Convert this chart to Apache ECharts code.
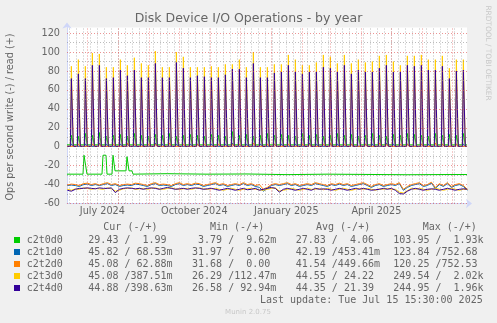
<!DOCTYPE html>
<html><head><meta charset="utf-8">
<script src="https://cdn.jsdelivr.net/npm/echarts@6/dist/echarts.min.js"></script>
<style>html,body{margin:0;padding:0;background:#f0f0f0;}#c{width:497px;height:323px;}</style>
</head><body><div id="c"></div>
<script>
// ---------- axis / time data ----------
const t0 = Date.UTC(2024, 5, 10, 15, 30);           // left edge of graph (end - 400 days)
const DAY = 86400000;
const xOf = s => (Date.parse(s + 'T00:00:00Z') - t0) / DAY;
const totalDays = 400;
const firstSample = xOf('2024-06-11');               // first daily sample
const monthStarts = ['2024-07-01','2024-08-01','2024-09-01','2024-10-01','2024-11-01','2024-12-01','2025-01-01','2025-02-01','2025-03-01','2025-04-01','2025-05-01','2025-06-01','2025-07-01'];
const weekLines = ['2024-06-13','2024-06-20','2024-06-27','2024-07-04','2024-07-11','2024-07-18','2024-07-25','2024-08-01','2024-08-08','2024-08-15','2024-08-22','2024-08-29','2024-09-05','2024-09-12','2024-09-19','2024-09-26','2024-10-03','2024-10-10','2024-10-17','2024-10-24','2024-10-31','2024-11-07','2024-11-14','2024-11-21','2024-11-28','2024-12-05','2024-12-12','2024-12-19','2024-12-26','2025-01-02','2025-01-09','2025-01-16','2025-01-23','2025-01-30','2025-02-06','2025-02-13','2025-02-20','2025-02-27','2025-03-06','2025-03-13','2025-03-20','2025-03-27','2025-04-03','2025-04-10','2025-04-17','2025-04-24','2025-05-01','2025-05-08','2025-05-15','2025-05-22','2025-05-29','2025-06-05','2025-06-12','2025-06-19','2025-06-26','2025-07-03','2025-07-10'];
const xLabelDates = ['2024-07-16','2024-10-16','2025-01-16','2025-04-16'];
const xLabels = ['July 2024','October 2024','January 2025','April 2025'];
const yTicks = [-60,-40,-20,0,20,40,60,80,100,120];
const yMinor = [-50,-30,-10,10,30,50,70,90,110];

// ---------- series data ----------
const disks  = ['c2t0d0','c2t1d0','c2t2d0','c2t3d0','c2t4d0'];
const colors = ['#00CC00','#0066B3','#FF8000','#FFCC00','#330099'];

// weekly read spikes (day index from 2024-06-11, two-day plateau)
const spikeIdx = [4,11,18,25,32,39,46,53,60,67,74,81,88,95,102,109,116,123,130,137,144,151,158,165,172,179,186,193,200,207,214,221,228,235,242,249,256,263,270,277,284,291,298,305,312,319,326,333,340,347,354,361,368,375,382,389,396];
const c2t3d0ReadPeaks = [85,92,85,99,98,84,84,92,86,94,88,86,101,84,84,100,95,84,84,84,85,84,87,87,92,84,100,84,84,87,
                         87,97,92,86,86,89,97,95,88,97,88,92,89,90,96,97,90,86,96,96,97,92,92,96,83,92,92];
const c2t4d0ReadPeaks = [72,77,72,86,86,72,73,81,75,81,73,73,88,73,73,89,83,73,75,74,73,73,76,82,82,73,88,73,73,78,
                         79,86,79,77,79,79,84,83,79,86,77,81,79,79,83,86,79,79,86,85,86,81,81,85,72,80,81];
const c2t0d0ReadPeaks = [12,11,14,12,15,11,12,13,11,14,12,11,13,12,14,11,12,13,12,11,13,12,11,16,12,13,11,12,14,12,
                         13,12,11,14,12,13,11,12,14,12,13,11,12,14,12,11,13,12,14,13,12,11,14,12,13,12,14];
const c2t1d0ReadPeaks = [3,2,3,2,4,3,2,3,3,2,3,2,4,3,2,3,2,3,3,2,3,2,3,4,2,3,2,3,2,3,3,2,3,2,4,3,2,3,3,2,3,2,3,3,2,4,3,2,3,2,3,3,2,3,2,3,3];
const c2t2d0ReadPeaks = [2,3,2,3,3,2,3,2,4,3,2,3,3,2,4,2,3,2,3,3,2,3,2,3,3,2,4,2,3,3,2,3,2,3,3,2,3,4,2,3,3,2,3,2,4,3,2,3,3,2,3,2,4,3,2,3,2];
const readBase = [1.99, 0.45, 0.45, 0.39, 0.40];

// write rates, one sample every 4 days from 2024-06-11 (drawn negative)
const writeStep = 4;
const c2t1d0Write = [41,40.5,41,42,40,39.5,41,40,41,40, 39,41,40,42,41,40.5,41,39.5,40,41, 42,40,39,41,40.5,41,42,40,39,41,
  40,41,39.5,40,42,41,40,39,41,40, 42,41,40,41,39,41,40,42,43,47, 44,41,40,41,40,39,41,40,42,41, 40,41,39,40,41,42,40,41,39.5,41,
  40,42,41,40,39,41,43,41,40,42, 41,40,41,39,46,43,41,40,39,42, 41,38.5,44,40,42,39,43,41,40,42, 46];
const c2t2d0Write = [40.5,39.5,40,41,39,38.5,40,39,40.5,39, 38,40,39,41,40,39.5,40,38.5,39,40, 41,39,38,40,39.5,40,41,39,38,40,
  39,40,38.5,39,41,40,39,38,40,39, 41,40,39,40,38,40,39,41,40,45, 43,40,39,40,39,38,40,39,41,40, 39,40,38,39,40,41,39,40,38.5,40,
  39,41,40,39,38,40,42,40,39,41, 40,39,40,38,45,42,40,39,38,41, 40,37.5,43,39,41,38,42,40,39,41, 45];
const c2t3d0Write = [45,46,44.5,45,43.5,44,45,44,44.5,45, 43.5,44.5,47,46,44.5,44,43.5,45,44.5,44, 45,44,43.5,44.5,45,44,43.5,44.5,45,44.5,
  44,45,44,43.5,44.5,45,44.5,44,45,46, 45,44,45,46,45,44.5,44,45,45.5,46, 45,44,43.5,47,46,45,44,45,46,45, 44,45,45,44,45.5,44,45,46,45,44,
  45,46,45,44,45,44,45,46,44.5,45, 44,45,45,48,49,46.5,44,45,44,45, 46,45,44,45,46,45,44,45,46,45, 45.1];
const c2t4d0Write = [46,47,45,44,44,43.5,44,44.5,43.5,44, 44,43.5,48.5,45,44,43.5,44,44.5,44,45, 44,43.5,44,45,44,43,44,45,44.5,44,
  45,44,43.5,44,45,44.5,44,45,46,45, 44,45,46,45,44,45.5,45,44,46,45, 44,43,44,48,45,44,45,46,45,44, 45,46,44,45,44.5,45,46,45,44,45,
  46,45,44,45,44,45,46,45.5,45,44, 45,44,46,49.5,50,47,45,44,45,46, 45,44.5,45,46,45,44,45,46,45,44.5, 44.9];
// c2t0d0 write: break points (days from left edge) and values
const c2t0d0WriteX = [0,16,17,19,20,35,36,39,40,45,46,47,48,59,60,61,62,65,66,100,140,180,220,260,300,340,380,400];
const c2t0d0WriteV = [29,29,9,9,29,29,9,9,29,29,9,9,25.5,25.5,10.5,10.5,25.5,25.5,29,28.5,29,28.8,29.5,29,29.3,29.6,29.4,29.4];

// ---------- legend table values ----------
const curW = ['29.43','45.82','45.08','45.08','44.88'], curR = ['1.99','68.53m','62.88m','387.51m','398.63m'];
const minW = ['3.79','31.97','31.68','26.29','26.58'],  minR = ['9.62m','0.00','0.00','112.47m','92.94m'];
const avgW = ['27.83','42.19','41.54','44.55','44.35'], avgR = ['4.06','453.41m','449.66m','24.22','21.39'];
const maxW = ['103.95','123.84','120.25','249.54','244.95'], maxR = ['1.93k','752.68','752.53','2.02k','1.96k'];
const headers = ['Cur (-/+)','Min (-/+)','Avg (-/+)','Max (-/+)'];

// ---------- build ----------
const readPeaks = [c2t0d0ReadPeaks, c2t1d0ReadPeaks, c2t2d0ReadPeaks, c2t3d0ReadPeaks, c2t4d0ReadPeaks];
const writes = [null, c2t1d0Write, c2t2d0Write, c2t3d0Write, c2t4d0Write];
function readData(peaks, base) {
  const pts = [[0, base]];
  spikeIdx.forEach((i, k) => {
    const d = firstSample + i;
    pts.push([d - 1, base], [d, peaks[k]], [d + 1, peaks[k]], [d + 2, base]);
  });
  pts.push([totalDays, base]);
  return pts;
}
function writeData(k) {
  if (k === 0) return c2t0d0WriteX.map((x, i) => [x, -c2t0d0WriteV[i]]);
  return writes[k].map((v, j) => [firstSample + writeStep * j, -v]);
}
const gridMajor = 'rgba(222,79,79,0.6)';
const gridMinor = 'rgba(143,143,143,0.6)';
const mlData = [];
weekLines.forEach(s => mlData.push({xAxis: xOf(s), lineStyle: {color: gridMinor, type: [1, 2], width: 1}}));
yMinor.forEach(v => mlData.push({yAxis: v, lineStyle: {color: gridMinor, type: [1, 2], width: 1}}));
monthStarts.forEach(s => mlData.push({xAxis: xOf(s), lineStyle: {color: gridMajor, type: [1, 2], width: 1}}));
yTicks.forEach(v => mlData.push({yAxis: v, lineStyle: {color: gridMajor, type: [1, 2], width: 1}}));

const series = [{
  type: 'line', data: [[0, 0]], symbol: 'none', lineStyle: {opacity: 0}, silent: true,
  markLine: {silent: true, symbol: 'none', label: {show: false}, animation: false, data: mlData}
}];
disks.forEach((name, k) => {
  series.push({type: 'line', name: name + ' write', data: writeData(k), symbol: 'none',
    lineStyle: {color: colors[k], width: 1}, itemStyle: {color: colors[k]}, silent: true});
  const rs = {type: 'line', name: name + ' read', data: readData(readPeaks[k], readBase[k]), symbol: 'none',
    lineStyle: {color: colors[k], width: 1}, itemStyle: {color: colors[k]}, silent: true};
  if (k === 4) {
    rs.areaStyle = {origin: 'auto', color: new echarts.graphic.LinearGradient(0, 0, 0, 1, [
      {offset: 0, color: 'rgba(95,45,130,0.85)'}, {offset: 1, color: 'rgba(200,160,195,0.6)'}])};
  }
  series.push(rs);
});

const labelX = xLabelDates.map(xOf);
const FONT = '"DejaVu Sans"';
const MONO = '"DejaVu Sans Mono"';
const txt = (x, y, text, o) => Object.assign({type: 'text', x, y, silent: true,
  style: Object.assign({text, fill: '#666', font: '10px ' + MONO, align: 'left', textAlign: 'left',
    verticalAlign: 'middle', textVerticalAlign: 'middle'}, o || {})});
const fmt = s => { const m = s.match(/^([\d.]+)([a-zA-Z]?)$/); return m[1].padStart(6, ' ') + (m[2] || ' '); };
const graphics = [];
graphics.push(txt(248.5, 19, 'Disk Device I/O Operations - by year', {font: '12.5px ' + FONT, align: 'center', textAlign: 'center'}));
graphics.push(Object.assign(txt(10, 117, 'Ops per second write (-) / read (+)', {font: '9.7px ' + FONT, align: 'center', textAlign: 'center'}), {rotation: Math.PI / 2}));
graphics.push(Object.assign(txt(487.5, 53, 'RRDTOOL / TOBI OETIKER', {font: '7.4px ' + FONT, fill: '#c8c8c8', align: 'center', textAlign: 'center'}), {rotation: -Math.PI / 2}));
const headX = [103.3, 210, 316, 422.7];
headers.forEach((h, i) => graphics.push(txt(headX[i], 227.3, h)));
const colX = [82.3, 186, 289.7, 393.3];
disks.forEach((name, k) => {
  const y = 240 + 12 * k;
  graphics.push({type: 'rect', shape: {x: 14, y: y - 3, width: 6, height: 6}, style: {fill: colors[k]}, silent: true});
  graphics.push(txt(26.7, y, name));
  const cells = [[curW, curR], [minW, minR], [avgW, avgR], [maxW, maxR]];
  cells.forEach((c, i) => graphics.push(txt(colX[i], y, fmt(c[0][k]) + '/' + fmt(c[1][k]))));
});
graphics.push(txt(482.7, 300, 'Last update: Tue Jul 15 15:30:00 2025', {align: 'right', textAlign: 'right'}));
graphics.push(txt(248, 312, 'Munin 2.0.75', {font: '7px ' + FONT, fill: '#c8c8c8', align: 'center', textAlign: 'center'}));

const chart = echarts.init(document.getElementById('c'), null, {renderer: 'canvas'});
chart.setOption({
  animation: false,
  backgroundColor: '#f0f0f0',
  grid: {left: 67, right: 30, top: 27.5, bottom: 119.5, show: true, backgroundColor: '#ffffff', borderWidth: 0},
  xAxis: {type: 'value', min: 0, max: totalDays, splitLine: {show: false}, axisTick: {show: false},
    axisLine: {show: true, onZero: false, symbol: ['none', 'arrow'], symbolSize: [7, 6], symbolOffset: [0, 5], lineStyle: {color: '#CFD6F8', width: 1}},
    axisLabel: {customValues: labelX, color: '#666', fontSize: 9.7, fontFamily: 'DejaVu Sans', margin: 3,
      formatter: v => { const i = labelX.findIndex(x => Math.abs(x - v) < 0.01); return i >= 0 ? xLabels[i] : ''; }}},
  yAxis: {type: 'value', min: -60, max: 126, splitLine: {show: false},
    axisTick: {show: false},
    axisLine: {show: true, onZero: false, symbol: ['none', 'arrow'], symbolSize: [7, 6], symbolOffset: [0, 5], lineStyle: {color: '#CFD6F8', width: 1}},
    axisLabel: {customValues: yTicks, color: '#666', fontSize: 9.7, fontFamily: 'DejaVu Sans', margin: 7}},
  series: series,
  graphic: {elements: graphics}
});
</script></body></html>
